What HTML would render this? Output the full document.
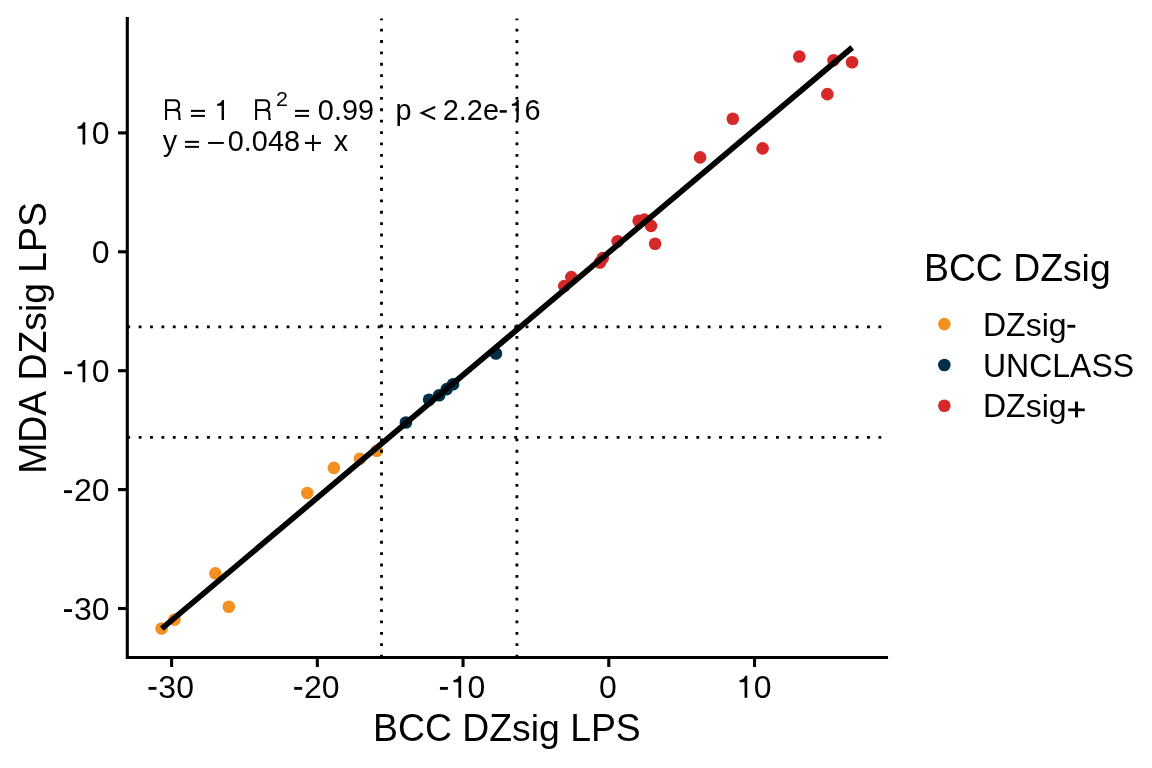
<!DOCTYPE html><html><head><meta charset="utf-8"><style>html,body{margin:0;padding:0;background:#fff;overflow:hidden}#w{will-change:transform;width:1152px;height:768px}svg{display:block}text{font-family:"Liberation Sans",sans-serif;font-kerning:none;fill:#000}</style></head><body><div id="w">
<svg width="1152" height="768" viewBox="0 0 1152 768">
<rect width="1152" height="768" fill="#fff"/>
<circle cx="161.6" cy="628.5" r="6.3" fill="#F39020"/>
<circle cx="174.5" cy="619.5" r="6.3" fill="#F39020"/>
<circle cx="215.3" cy="573.4" r="6.3" fill="#F39020"/>
<circle cx="228.8" cy="606.8" r="6.3" fill="#F39020"/>
<circle cx="307.3" cy="493.0" r="6.3" fill="#F39020"/>
<circle cx="333.85" cy="467.9" r="6.3" fill="#F39020"/>
<circle cx="359.9" cy="458.7" r="6.3" fill="#F39020"/>
<circle cx="376.8" cy="450.8" r="6.3" fill="#F39020"/>
<circle cx="405.9" cy="422.55" r="6.3" fill="#003049"/>
<circle cx="429.1" cy="399.7" r="6.3" fill="#003049"/>
<circle cx="439.2" cy="395.3" r="6.3" fill="#003049"/>
<circle cx="446.75" cy="389.1" r="6.3" fill="#003049"/>
<circle cx="453.05" cy="384.3" r="6.3" fill="#003049"/>
<circle cx="495.9" cy="353.5" r="6.3" fill="#003049"/>
<circle cx="564.2" cy="286.1" r="6.3" fill="#D62828"/>
<circle cx="571.3" cy="277.1" r="6.3" fill="#D62828"/>
<circle cx="600.0" cy="262.5" r="6.3" fill="#D62828"/>
<circle cx="602.75" cy="258.1" r="6.3" fill="#D62828"/>
<circle cx="617.6" cy="241.2" r="6.3" fill="#D62828"/>
<circle cx="638.65" cy="220.7" r="6.3" fill="#D62828"/>
<circle cx="644.3" cy="219.65" r="6.3" fill="#D62828"/>
<circle cx="651.0" cy="225.9" r="6.3" fill="#D62828"/>
<circle cx="655.1" cy="243.8" r="6.3" fill="#D62828"/>
<circle cx="700.1" cy="157.4" r="6.3" fill="#D62828"/>
<circle cx="732.8" cy="118.7" r="6.3" fill="#D62828"/>
<circle cx="762.6" cy="148.4" r="6.3" fill="#D62828"/>
<circle cx="799.3" cy="56.45" r="6.3" fill="#D62828"/>
<circle cx="827.35" cy="94.15" r="6.3" fill="#D62828"/>
<circle cx="833.5" cy="60.25" r="6.3" fill="#D62828"/>
<circle cx="852.05" cy="62.25" r="6.3" fill="#D62828"/>
<path d="M381.5 657.5V18.5" stroke="#000" stroke-width="2.845" stroke-dasharray="2.845 8.536" fill="none"/>
<path d="M516.9 657.5V18.5" stroke="#000" stroke-width="2.845" stroke-dasharray="2.845 8.536" fill="none"/>
<path d="M127.3 326.8H886.5" stroke="#000" stroke-width="2.845" stroke-dasharray="2.845 8.536" fill="none"/>
<path d="M127.3 437.4H886.5" stroke="#000" stroke-width="2.845" stroke-dasharray="2.845 8.536" fill="none"/>
<path d="M161.8 628.65L852.2 47.5" stroke="#000" stroke-width="5.69" fill="none"/>
<path d="M127.3 18.5V657.5H886.5" stroke="#000" stroke-width="3.1" fill="none" stroke-linecap="square" stroke-linejoin="miter"/>
<path d="M171.60 657.5V667" stroke="#000" stroke-width="3.1"/>
<path d="M127.3 608.50H118" stroke="#000" stroke-width="3.1"/>
<path d="M317.33 657.5V667" stroke="#000" stroke-width="3.1"/>
<path d="M127.3 489.60H118" stroke="#000" stroke-width="3.1"/>
<path d="M463.06 657.5V667" stroke="#000" stroke-width="3.1"/>
<path d="M127.3 370.70H118" stroke="#000" stroke-width="3.1"/>
<path d="M608.79 657.5V667" stroke="#000" stroke-width="3.1"/>
<path d="M127.3 251.80H118" stroke="#000" stroke-width="3.1"/>
<path d="M754.52 657.5V667" stroke="#000" stroke-width="3.1"/>
<path d="M127.3 132.90H118" stroke="#000" stroke-width="3.1"/>
<g>
<rect x="148.47" y="686.95" width="7.94" height="2.85"/>
<text x="158.33" y="697.80" font-size="32">30</text>
<rect x="64.05" y="609.15" width="7.94" height="2.85"/>
<text x="73.91" y="620.00" font-size="32">30</text>
<rect x="294.21" y="686.95" width="7.94" height="2.85"/>
<text x="304.06" y="697.80" font-size="32">20</text>
<rect x="64.05" y="490.25" width="7.94" height="2.85"/>
<text x="73.91" y="501.10" font-size="32">20</text>
<rect x="439.94" y="686.95" width="7.94" height="2.85"/>
<path d="M461.15 697.80V675.72H459.07C458.27 677.96 456.35 680.20 453.47 679.88V682.18H458.43V697.80Z"/>
<text x="467.59" y="697.80" font-size="32">0</text>
<rect x="64.05" y="371.35" width="7.94" height="2.85"/>
<path d="M85.27 382.20V360.12H83.19C82.39 362.36 80.47 364.60 77.59 364.28V366.58H82.55V382.20Z"/>
<text x="91.70" y="382.20" font-size="32">0</text>
<text x="599.09" y="697.80" font-size="32">0</text>
<text x="91.70" y="263.30" font-size="32">0</text>
<path d="M747.28 697.80V675.72H745.20C744.40 677.96 742.48 680.20 739.60 679.88V682.18H744.56V697.80Z"/>
<text x="753.72" y="697.80" font-size="32">0</text>
<path d="M85.27 144.40V122.32H83.19C82.39 124.56 80.47 126.80 77.59 126.48V128.78H82.55V144.40Z"/>
<text x="91.70" y="144.40" font-size="32">0</text>
<text transform="translate(373.10 740.90) scale(1 1.05)" font-size="37.33">BCC</text>
<text x="451.92" y="740.90" font-size="37.33"> </text>
<text transform="translate(462.29 740.90) scale(1 1.05)" font-size="37.33">DZ</text>
<text x="512.05" y="740.90" font-size="37.33">sig </text>
<text transform="translate(570.14 740.90) scale(1 1.05)" font-size="37.33">LPS</text>
<g transform="translate(46,338) rotate(-90)"><text transform="translate(-135.87 0.00) scale(1 1.05)" font-size="37.33">MDA</text>
<text x="-52.91" y="0.00" font-size="37.33"> </text>
<text transform="translate(-42.54 0.00) scale(1 1.05)" font-size="37.33">DZ</text>
<text x="7.22" y="0.00" font-size="37.33">sig </text>
<text transform="translate(65.31 0.00) scale(1 1.05)" font-size="37.33">LPS</text></g>
<text transform="translate(924.00 280.90) scale(1 1.05)" font-size="37.33">BCC</text>
<text x="1002.82" y="280.90" font-size="37.33"> </text>
<text transform="translate(1013.19 280.90) scale(1 1.05)" font-size="37.33">DZ</text>
<text x="1062.95" y="280.90" font-size="37.33">sig</text>
<circle cx="944.35" cy="324.10" r="6.3" fill="#F39020"/>
<text transform="translate(983.00 335.70) scale(1 1.05)" font-size="32">DZ</text>
<text x="1025.66" y="335.70" font-size="32">sig</text>
<rect x="1067.36" y="324.85" width="7.94" height="2.85"/>
<circle cx="944.35" cy="364.95" r="6.3" fill="#003049"/>
<text transform="translate(983.00 376.55) scale(1 1.05)" font-size="32">UNCLASS</text>
<circle cx="944.35" cy="405.80" r="6.3" fill="#D62828"/>
<text transform="translate(983.00 417.40) scale(1 1.05)" font-size="32">DZ</text>
<text x="1025.66" y="417.40" font-size="32">sig</text>
<rect x="1068.19" y="408.47" width="16.61" height="2.72"/><rect x="1075.04" y="401.59" width="2.94" height="15.81"/>
<path d="M166.07 119.90L166.07 100.27L174.35 100.27C177.75 100.27 179.10 102.00 179.10 105.10C179.10 108.20 177.75 109.95 174.35 109.95L166.07 109.95M174.35 109.95C177.65 109.95 179.30 111.00 179.30 113.90L179.30 119.90" fill="none" stroke="#000" stroke-width="2.05" stroke-linejoin="miter"/><rect x="179.55" y="118.60" width="1.30" height="1.30"/>
<rect x="190.9" y="109.90" width="14.10" height="2"/><rect x="190.9" y="114.90" width="14.10" height="2"/>
<path d="M224.02 119.90V99.99H222.15C221.43 102.01 219.70 104.03 217.10 103.74V105.82H221.57V119.90Z"/>
<path d="M256.12 119.90L256.12 100.27L264.40 100.27C267.80 100.27 269.15 102.00 269.15 105.10C269.15 108.20 267.80 109.95 264.40 109.95L256.12 109.95M264.40 109.95C267.70 109.95 269.35 111.00 269.35 113.90L269.35 119.90" fill="none" stroke="#000" stroke-width="2.05" stroke-linejoin="miter"/><rect x="269.60" y="118.60" width="1.30" height="1.30"/>
<text transform="translate(275.9 106.35) scale(1.065 1)" font-size="20.2">2</text>
<rect x="295.05" y="109.90" width="13.99" height="2"/><rect x="295.05" y="114.90" width="13.99" height="2"/>
<text x="317.85" y="119.90" font-size="28.85">0.99</text>
<text x="395.50" y="119.90" font-size="28.85">p</text>
<path d="M434.4 107.20L421.8 112.90L434.4 118.80" stroke="#000" stroke-width="2.1" fill="none" stroke-linecap="round"/>
<text x="442.80" y="119.90" font-size="28.85">2.2e</text>
<rect x="499.67" y="110.12" width="7.15" height="2.57"/>
<path d="M518.80 119.90V99.99H516.92C516.20 102.01 514.47 104.03 511.88 103.74V105.82H516.35V119.90Z"/>
<text x="524.60" y="119.90" font-size="28.85">6</text>
<text x="162.80" y="150.85" font-size="28.85">y</text>
<rect x="185" y="140.85" width="14.00" height="2"/><rect x="185" y="145.85" width="14.00" height="2"/>
<rect x="208.1" y="141.95" width="15.7" height="2"/>
<text x="227.80" y="150.85" font-size="28.85">0.048</text>
<rect x="305" y="141.90" width="16" height="2.1"/>
<rect x="312.05" y="134.95" width="1.95" height="16.05"/>
<text x="333.70" y="150.85" font-size="28.85">x</text>
</g>
</svg></div></body></html>
